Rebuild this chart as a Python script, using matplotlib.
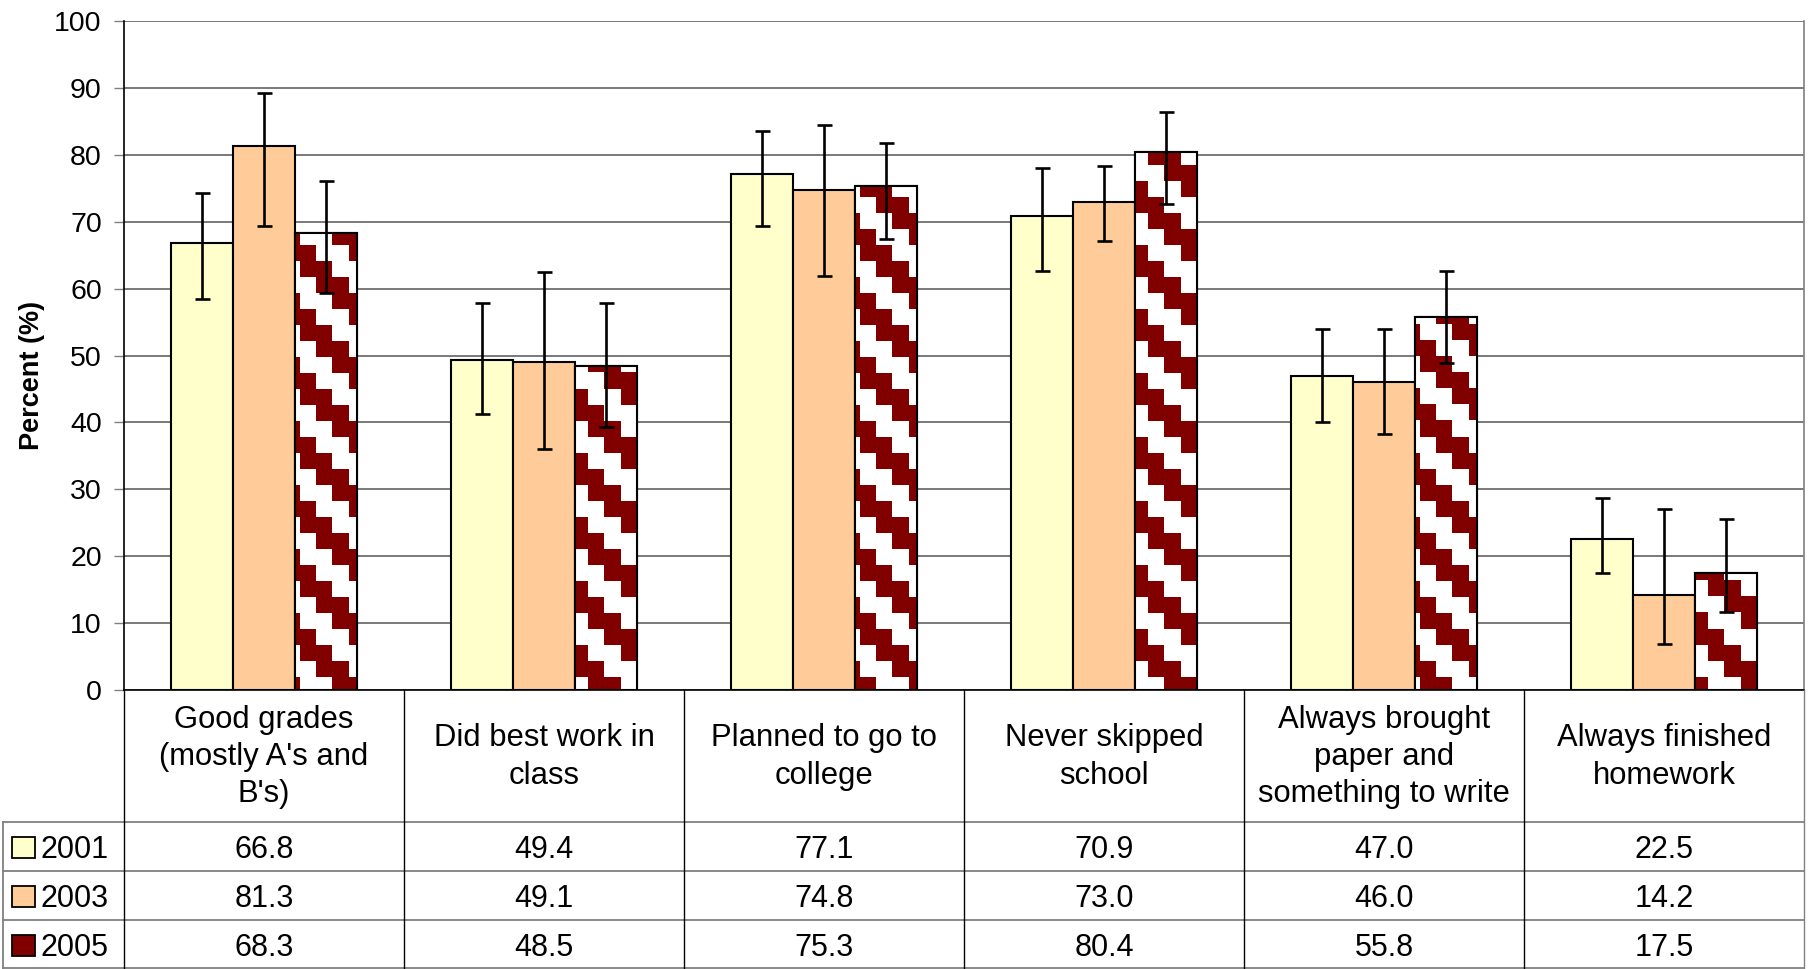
import numpy as np
import matplotlib
matplotlib.use("Agg")
import matplotlib.pyplot as plt
from matplotlib.transforms import Affine2D
from matplotlib.lines import Line2D
from matplotlib.patches import Rectangle

plt.rcParams['font.family'] = ['Liberation Sans', 'DejaVu Sans']

categories = ["Good grades\n(mostly A's and\nB's)", "Did best work in\nclass",
              "Planned to go to\ncollege", "Never skipped\nschool",
              "Always brought\npaper and\nsomething to write", "Always finished\nhomework"]
years = ['2001', '2003', '2005']
v2001 = [66.8, 49.4, 77.1, 70.9, 47.0, 22.5]
v2003 = [81.3, 49.1, 74.8, 73.0, 46.0, 14.2]
v2005 = [68.3, 48.5, 75.3, 80.4, 55.8, 17.5]
hi2001 = [74.3, 57.8, 83.5, 78.1, 54.0, 28.7]
lo2001 = [58.4, 41.2, 69.3, 62.6, 40.1, 17.5]
hi2003 = [89.3, 62.5, 84.5, 78.4, 54.0, 27.1]
lo2003 = [69.3, 36.0, 61.9, 67.1, 38.3, 6.9]
hi2005 = [76.1, 57.9, 81.8, 86.4, 62.7, 25.5]
lo2005 = [59.3, 39.3, 67.4, 72.6, 48.9, 11.7]
yticks = list(range(0, 101, 10))

W, H = 1811, 969
fig = plt.figure(figsize=(W / 100, H / 100), dpi=100)
L, R, T, B = 124, 1804, 21, 690
ax = fig.add_axes([L / W, (H - B) / H, (R - L) / W, (B - T) / H])

n = len(categories)
x = np.arange(n)
bw = 0.222
dark = '#800000'
series = [(v2001, hi2001, lo2001, '#FFFFCC'),
          (v2003, hi2003, lo2003, '#FFCC99'),
          (v2005, hi2005, lo2005, 'white')]

ax.set_xlim(-0.5, n - 0.5)
ax.set_ylim(0, 100)

# staircase pattern image (pixel grid of the axes)
pw, ph = R - L, B - T
jj, ii = np.meshgrid(np.arange(pw), np.arange(ph))
mask = ((jj // 16 - ii // 16) % 4) < 2
img = np.ones((ph, pw, 4))
img[mask, 0] = 0x80 / 255
img[mask, 1] = 0
img[mask, 2] = 0

for k, (vals, hi, lo, col) in enumerate(series):
    xs = x + (k - 1) * bw
    bars = ax.bar(xs, vals, width=bw, color=col, edgecolor='black', linewidth=1.5, zorder=3)
    if k == 2:
        for b in bars:
            im = ax.imshow(img, extent=(-0.5, n - 0.5, 0, 100), origin='upper',
                           aspect='auto', interpolation='nearest', zorder=3.5)
            im.set_clip_path(b)
        ax.bar(xs, vals, width=bw, color='none', edgecolor='black', linewidth=1.5, zorder=4)
    vals_a = np.array(vals)
    err = [vals_a - np.array(lo), np.array(hi) - vals_a]
    ax.errorbar(xs, vals, yerr=err, fmt='none', ecolor='black', elinewidth=1.9,
                capsize=5.4, capthick=1.9, zorder=5)

ax.set_xlim(-0.5, n - 0.5)
ax.set_ylim(0, 100)
ax.set_yticks(yticks)
ax.set_xticks([])
ax.yaxis.grid(True, color='#555555', linewidth=1.1, zorder=0)
ax.set_axisbelow(True)
ax.tick_params(axis='y', length=7, width=1, color='#808080', labelsize=20.5, pad=9)
ax.spines['top'].set_visible(False)
ax.spines['right'].set_color('#808080')
ax.spines['right'].set_linewidth(1.2)
ax.spines['left'].set_color('black')
ax.spines['left'].set_linewidth(1.2)
ax.spines['bottom'].set_color('black')
ax.spines['bottom'].set_linewidth(1.2)

fig.text(32 / W, 1 - 375 / H, 'Percent (%)', rotation=90, fontsize=19.5, fontweight='bold',
         ha='center', va='center')

# table in pixel coords (y from top)
pix = Affine2D().scale(1 / W, -1 / H).translate(0, 1) + fig.transFigure
colw = (R - L) / n
rows_y = [822, 871, 920, 968]
for yy in rows_y:
    fig.add_artist(Line2D([3, R], [yy, yy], transform=pix, color='#808080', linewidth=1.3))
for k in range(n + 1):
    xx = L + k * colw
    fig.add_artist(Line2D([xx, xx], [B, 969], transform=pix,
                          color='#808080' if k == n else 'black', linewidth=1.0))
fig.add_artist(Line2D([3, 3], [822, 969], transform=pix, color='#808080', linewidth=1.3))

for k, c in enumerate(categories):
    fig.text(L + (k + 0.5) * colw, (B + 822) / 2 + 1, c, transform=pix, ha='center',
             va='center', fontsize=22.3, linespacing=1.32)

row_colors = ['#FFFFCC', '#FFCC99', dark]
row_vals = [v2001, v2003, v2005]
for r in range(3):
    yc = (rows_y[r] + rows_y[r + 1]) / 2
    fig.add_artist(Rectangle((12, yc - 9), 23, 21, transform=pix, facecolor=row_colors[r],
                             edgecolor='black', linewidth=1.3))
    fig.text(40, yc + 4, years[r], transform=pix, ha='left', va='center', fontsize=22)
    for k in range(n):
        fig.text(L + (k + 0.5) * colw, yc + 4, f"{row_vals[r][k]:.1f}", transform=pix,
                 ha='center', va='center', fontsize=22)

fig.savefig('out.png', dpi=100)
